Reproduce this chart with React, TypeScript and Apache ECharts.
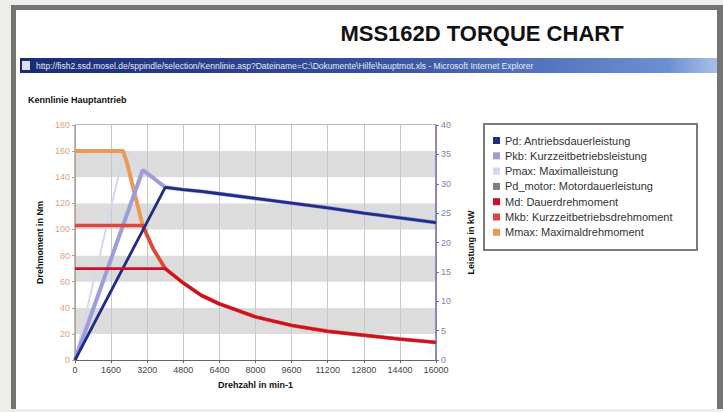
import React, { useEffect, useRef } from "react";
import * as echarts from "echarts";

// ---- Data ----
const rpmTicks = [0, 1600, 3200, 4800, 6400, 8000, 9600, 11200, 12800, 14400, 16000];

// Power curves [rpm, kW]
const pdData: number[][] = [
  [0, 0], [4000, 29.4], [4800, 29.0], [5600, 28.7], [6400, 28.3], [7200, 27.9],
  [8000, 27.5], [9600, 26.7], [11200, 25.9], [12800, 25.0], [14400, 24.2], [16000, 23.4],
];
const pkbData: number[][] = [[0, 0], [3000, 32.3], [3500, 30.9], [4000, 29.4]];
const pmaxData: number[][] = [[0, 0], [2150, 35.0], [2300, 35.5], [2650, 34.4], [3000, 32.3], [3500, 30.9], [4000, 29.4]];
const pdMotorData: number[][] = [
  [0, 0], [4000, 29.4], [4800, 29.0], [5600, 28.7], [6400, 28.3], [7200, 27.9],
  [8000, 27.5], [9600, 26.7], [11200, 25.9], [12800, 25.0], [14400, 24.2], [16000, 23.4],
];

// Torque curves [rpm, Nm]
const mdData: number[][] = [
  [0, 70], [4000, 70], [4800, 59], [5600, 49.5], [6400, 43], [7200, 38],
  [8000, 33], [9600, 26.5], [11200, 22], [12800, 19], [14400, 16], [16000, 13.5],
];
const mkbData: number[][] = [[0, 103], [3000, 103], [3470, 85], [4000, 70]];
const mmaxData: number[][] = [[0, 160], [2130, 160], [2290, 152], [2650, 127], [3000, 103], [3470, 85], [4000, 70]];

const seriesNames = [
  "Pd: Antriebsdauerleistung",
  "Pkb: Kurzzeitbetriebsleistung",
  "Pmax: Maximalleistung",
  "Pd_motor: Motordauerleistung",
  "Md: Dauerdrehmoment",
  "Mkb: Kurzzeitbetriebsdrehmoment",
  "Mmax: Maximaldrehmoment",
];
const seriesColors = ["#1f2d86", "#9d9ddb", "#d4d8ee", "#7f7f7f", "#cc1029", "#d9473f", "#e99a58"];

const chartTitle = "MSS162D TORQUE CHART";
const windowTitle =
  "http://fish2.ssd.mosel.de/sppindle/selection/Kennlinie.asp?Dateiname=C:\\Dokumente\\Hilfe\\hauptmot.xls - Microsoft Internet Explorer";
const subTitle = "Kennlinie Hauptantrieb";

export default function App() {
  const ref = useRef<HTMLDivElement>(null);

  useEffect(() => {
    if (!ref.current) return;
    const chart = echarts.init(ref.current, undefined, { renderer: "svg" });

    const pkbFull = pkbData.concat(pdData.filter((p) => p[0] > 4000));
    const pmaxFull = pmaxData.concat(pdData.filter((p) => p[0] > 4000));
    const mkbFull = mkbData.concat(mdData.filter((p) => p[0] > 4000));
    const mmaxFull = mmaxData.concat(mdData.filter((p) => p[0] > 4000));

    const line = (i: number, data: number[][], yIdx: number, width: number, z: number) => ({
      name: seriesNames[i],
      type: "line",
      yAxisIndex: yIdx,
      data,
      showSymbol: false,
      symbol: "none",
      z,
      lineStyle: { color: seriesColors[i], width },
      itemStyle: { color: seriesColors[i] },
    });

    chart.setOption({
      animation: false,
      backgroundColor: "#f0eeeb",
      graphic: [
        { type: "rect", z: -10, shape: { x: 11, y: 5, width: 712, height: 404 }, style: { fill: "#747474" } },
        { type: "rect", z: -9, shape: { x: 16, y: 10, width: 701, height: 399 }, style: { fill: "#ffffff" } },
        {
          type: "text", z: 50, x: 482, y: 33,
          style: { text: chartTitle, fill: "#111", font: "bold 22px 'Liberation Sans', Arial, sans-serif", textAlign: "center", textVerticalAlign: "middle" },
        },
        {
          type: "rect", z: 40, shape: { x: 20, y: 58, width: 697, height: 15 },
          style: {
            fill: new echarts.graphic.LinearGradient(0, 0, 1, 0, [
              { offset: 0, color: "#1c2a74" },
              { offset: 0.5, color: "#34509e" },
              { offset: 0.93, color: "#6b90d2" },
              { offset: 1, color: "#a9bfe6" },
            ]),
          },
        },
        { type: "rect", z: 41, shape: { x: 22, y: 61, width: 8, height: 9 }, style: { fill: "#d8e0f2" } },
        {
          type: "text", z: 42, x: 36, y: 65.5,
          style: { text: windowTitle, fill: "#e6ebf8", font: "8.5px 'Liberation Sans', Arial, sans-serif", textVerticalAlign: "middle" },
        },
        {
          type: "text", z: 42, x: 28, y: 100,
          style: { text: subTitle, fill: "#111", font: "bold 9px 'Liberation Sans', Arial, sans-serif", textVerticalAlign: "middle" },
        },
        { type: "rect", z: 30, shape: { x: 484, y: 124, width: 213, height: 126 }, style: { fill: "#ffffff", stroke: "#7a7a7a", lineWidth: 2 } },
      ],
      legend: {
        show: true,
        orient: "vertical",
        left: 485,
        top: 126,
        padding: [8, 6, 8, 8],
        itemWidth: 7,
        itemHeight: 7,
        itemGap: 2.3,
        icon: "rect",
        z: 40,
        data: seriesNames,
        textStyle: { fontSize: 11, lineHeight: 13, color: "#333", fontFamily: "'Liberation Sans', Arial, sans-serif" },
      },
      grid: { left: 75, top: 125, width: 361, height: 235, show: true, borderColor: "#777", borderWidth: 1, backgroundColor: "transparent" },
      xAxis: {
        type: "value",
        min: 0,
        max: 16000,
        interval: 1600,
        name: "Drehzahl in min-1",
        nameLocation: "middle",
        nameGap: 20,
        nameTextStyle: { fontWeight: "bold", fontSize: 9, color: "#111", fontFamily: "'Liberation Sans', Arial, sans-serif" },
        axisLine: { lineStyle: { color: "#666" } },
        axisTick: { show: true, length: 3, lineStyle: { color: "#666" } },
        axisLabel: {
          fontSize: 9, color: "#444", margin: 5, fontFamily: "'Liberation Sans', Arial, sans-serif",
          formatter: (v: number) => (rpmTicks.includes(v) ? String(v) : ""),
        },
        splitLine: { show: true, lineStyle: { color: "#c8c8c8", width: 1 } },
      },
      yAxis: [
        {
          type: "value",
          min: 0,
          max: 180,
          interval: 20,
          position: "left",
          name: "Drehmoment in Nm",
          nameLocation: "middle",
          nameGap: 31,
          nameRotate: 90,
          nameTextStyle: { fontWeight: "bold", fontSize: 9, color: "#111", fontFamily: "'Liberation Sans', Arial, sans-serif" },
          axisLine: { show: true, lineStyle: { color: "#b8a08c" } },
          axisTick: { show: true, length: 3, lineStyle: { color: "#b8a08c" } },
          axisLabel: { fontSize: 9, color: "#e3a27c", margin: 5, fontFamily: "'Liberation Sans', Arial, sans-serif" },
          splitLine: { show: false },
          splitArea: { show: true, areaStyle: { color: ["#ffffff", "#dcdcdc"] } },
        },
        {
          type: "value",
          min: 0,
          max: 40,
          interval: 5,
          position: "right",
          name: "Leistung in kW",
          nameLocation: "middle",
          nameGap: 30,
          nameRotate: 90,
          nameTextStyle: { fontWeight: "bold", fontSize: 9, color: "#111", fontFamily: "'Liberation Sans', Arial, sans-serif" },
          axisLine: { show: true, lineStyle: { color: "#6e6eae", width: 1.5 } },
          axisTick: { show: true, length: 3, lineStyle: { color: "#6e6eae" } },
          axisLabel: { fontSize: 9, color: "#8080b4", margin: 5, fontFamily: "'Liberation Sans', Arial, sans-serif" },
          splitLine: { show: false },
        },
      ],
      series: [
        line(0, pdData, 1, 2.8, 10),
        line(1, pkbFull, 1, 4, 8),
        line(2, pmaxFull, 1, 2, 6),
        line(3, pdMotorData, 1, 2, 5),
        line(4, mdData, 0, 2.8, 10),
        line(5, mkbFull, 0, 3.4, 8),
        line(6, mmaxFull, 0, 4, 6),
      ],
    });

    return () => chart.dispose();
  }, []);

  return <div ref={ref} style={{ position: "absolute", left: 0, top: 0, width: 723, height: 412 }} />;
}
